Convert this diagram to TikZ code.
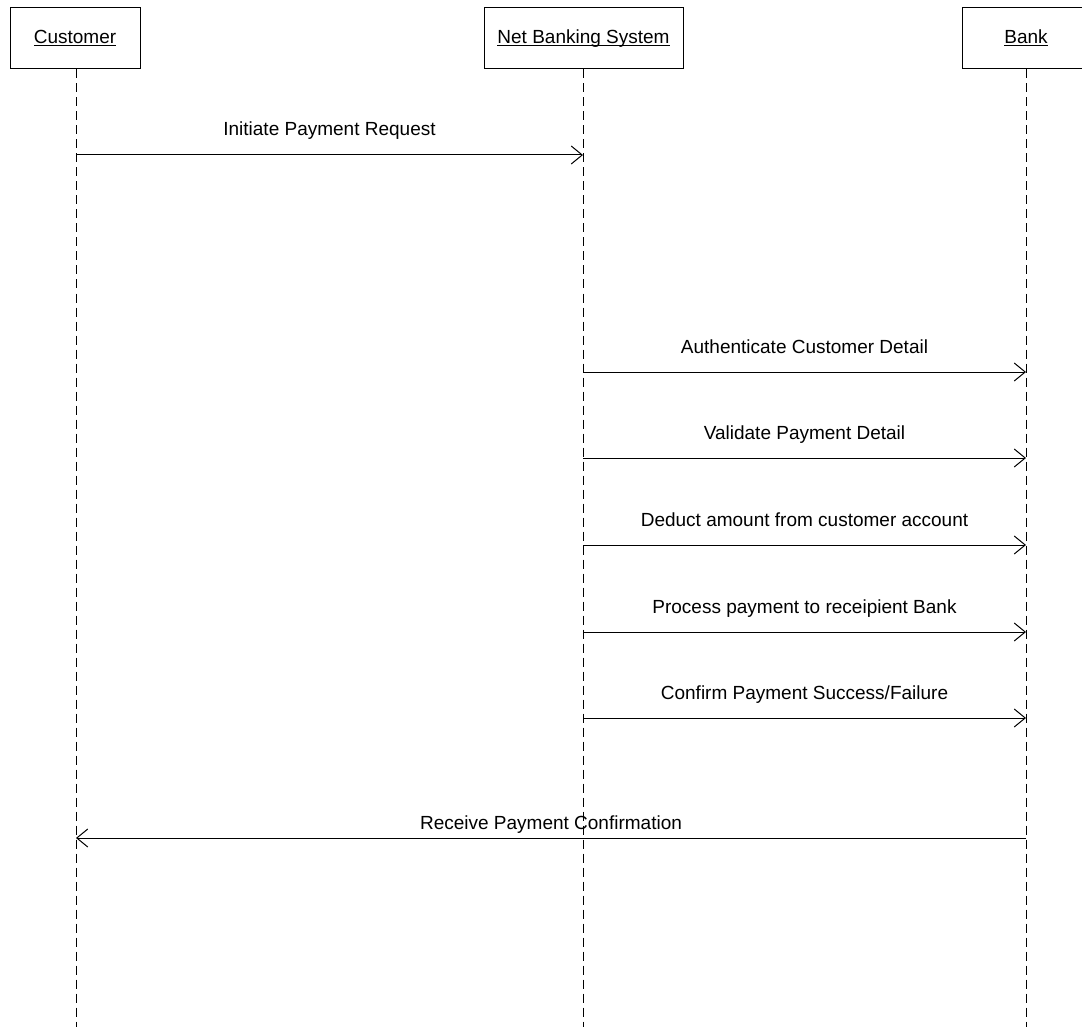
\documentclass[tikz,border=0pt]{standalone}
\usepackage{fontspec}
\setmainfont{Liberation Sans}
\usetikzlibrary{arrows.meta}

\begin{document}
\begin{tikzpicture}[
    x=1pt, y=-1pt,
    every node/.style={font=\fontsize{19}{23}\selectfont},
    actor/.style={rectangle, draw, line width=1pt, minimum height=61pt, inner sep=0pt, text height=14pt, text depth=3pt},
    lifeline/.style={line width=1pt, dash pattern=on 9pt off 5pt},
    msg/.style={-{Straight Barb[length=11pt, width=18pt, line width=1pt]}, line width=1pt},
    msglabel/.style={inner sep=0pt, anchor=base}
]
\useasboundingbox (0,0) rectangle (1082,1027);

% Actors
\node[actor, minimum width=130pt] (customer) at (75,38.5) {\underline{\smash{Customer}}};
\node[actor, minimum width=199pt] (netbank) at (583.5,38.5) {\underline{\smash{Net Banking System}}};
\node[actor, minimum width=128pt] (bank) at (1026,38.5) {\underline{\smash{Bank}}};

% Lifelines
\coordinate (customerend) at (76,1027);
\coordinate (netbankend) at (583,1027);
\coordinate (bankend) at (1026,1027);
\draw[lifeline] (customer.south -| customerend) -- (customerend);
\draw[lifeline] (netbank.south -| netbankend) -- (netbankend);
\draw[lifeline] (bank.south) -- (bankend);

% Messages
\draw[msg] (customerend |- 0,155) -- (netbankend |- 0,155);
\node[msglabel] (m1) at (329.5,136) {Initiate Payment Request};

\draw[msg] (netbankend |- 0,372) -- (bankend |- 0,372);
\node[msglabel] (m2) at (804.5,353) {Authenticate Customer Detail};

\draw[msg] (netbankend |- 0,458) -- (bankend |- 0,458);
\node[msglabel] (m3) at (804.5,439) {Validate Payment Detail};

\draw[msg] (netbankend |- 0,545) -- (bankend |- 0,545);
\node[msglabel] (m4) at (804.5,526) {Deduct amount from customer account};

\draw[msg] (netbankend |- 0,632) -- (bankend |- 0,632);
\node[msglabel] (m5) at (804.5,613) {Process payment to receipient Bank};

\draw[msg] (netbankend |- 0,718) -- (bankend |- 0,718);
\node[msglabel] (m6) at (804.5,699) {Confirm Payment Success/Failure};

% Return
\draw[msg] (bankend |- 0,838) -- (customerend |- 0,838);
\node[msglabel] (m7) at (551,829) {Receive Payment Confirmation};

\end{tikzpicture}
\end{document}
